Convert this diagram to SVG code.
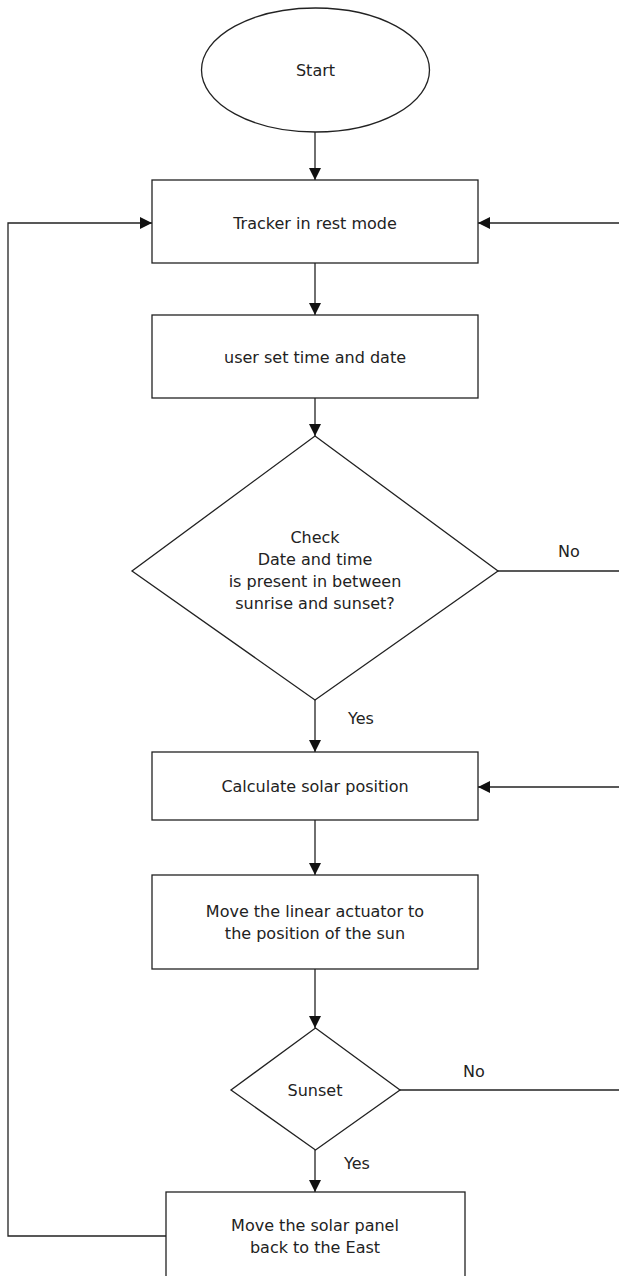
<svg xmlns="http://www.w3.org/2000/svg" width="619" height="1276" viewBox="0 0 619 1276">
<style>
.shape{fill:#fff;stroke:#222;stroke-width:1.3}
.conn{fill:none;stroke:#222;stroke-width:1.3}
.lbl{font-family:"DejaVu Sans",sans-serif;font-size:16px;fill:#222;text-anchor:middle}
.lbs{font-family:"DejaVu Sans",sans-serif;font-size:16px;fill:#222}
</style>
<defs>
<marker id="arr" markerUnits="userSpaceOnUse" markerWidth="12" markerHeight="12" refX="12" refY="6" orient="auto">
<path d="M0,0 L12,6 L0,12 z" fill="#111"/>
</marker>
</defs>
<rect width="619" height="1276" fill="#fff"/>
<g id="connectors">
<path class="conn" d="M315,132 V180" marker-end="url(#arr)"/>
<path class="conn" d="M315,263 V315" marker-end="url(#arr)"/>
<path class="conn" d="M315,398 V436" marker-end="url(#arr)"/>
<path class="conn" d="M315,700 V752" marker-end="url(#arr)"/>
<path class="conn" d="M315,820 V875" marker-end="url(#arr)"/>
<path class="conn" d="M315,969 V1028" marker-end="url(#arr)"/>
<path class="conn" d="M315,1150 V1192" marker-end="url(#arr)"/>
<path class="conn" d="M498,571 H619"/>
<path class="conn" d="M619,223 H478" marker-end="url(#arr)"/>
<path class="conn" d="M619,787 H478" marker-end="url(#arr)"/>
<path class="conn" d="M400,1090 H619"/>
<path class="conn" d="M166,1236 H8 V223 H152" marker-end="url(#arr)"/>
<text class="lbs" x="558" y="557">No</text>
<text class="lbs" x="348" y="724">Yes</text>
<text class="lbs" x="463" y="1077">No</text>
<text class="lbs" x="344" y="1169">Yes</text>
</g>
<g id="start">
<ellipse class="shape" cx="315.5" cy="70" rx="114" ry="62"/>
<text class="lbl" x="315.5" y="76">Start</text>
</g>
<g id="rest">
<rect class="shape" x="152" y="180" width="326" height="83"/>
<text class="lbl" x="315" y="229">Tracker in rest mode</text>
</g>
<g id="userset">
<rect class="shape" x="152" y="315" width="326" height="83"/>
<text class="lbl" x="315" y="363">user set time and date</text>
</g>
<g id="check">
<path class="shape" d="M315,436 L498,571 L315,700 L132,571 Z"/>
<text class="lbl" x="315" y="542.5">Check</text>
<text class="lbl" x="315" y="564.8">Date and time</text>
<text class="lbl" x="315" y="587">is present in between</text>
<text class="lbl" x="315" y="609.3">sunrise and sunset?</text>
</g>
<g id="calc">
<rect class="shape" x="152" y="752" width="326" height="68"/>
<text class="lbl" x="315" y="792">Calculate solar position</text>
</g>
<g id="move">
<rect class="shape" x="152" y="875" width="326" height="94"/>
<text class="lbl" x="315" y="916.7">Move the linear actuator to</text>
<text class="lbl" x="315" y="938.7">the position of the sun</text>
</g>
<g id="sunset">
<path class="shape" d="M315.5,1028 L400,1090 L315.5,1150 L231,1090 Z"/>
<text class="lbl" x="315" y="1096">Sunset</text>
</g>
<g id="back">
<rect class="shape" x="166" y="1192" width="299" height="90"/>
<text class="lbl" x="315" y="1230.7">Move the solar panel</text>
<text class="lbl" x="315" y="1252.7">back to the East</text>
</g>
</svg>
